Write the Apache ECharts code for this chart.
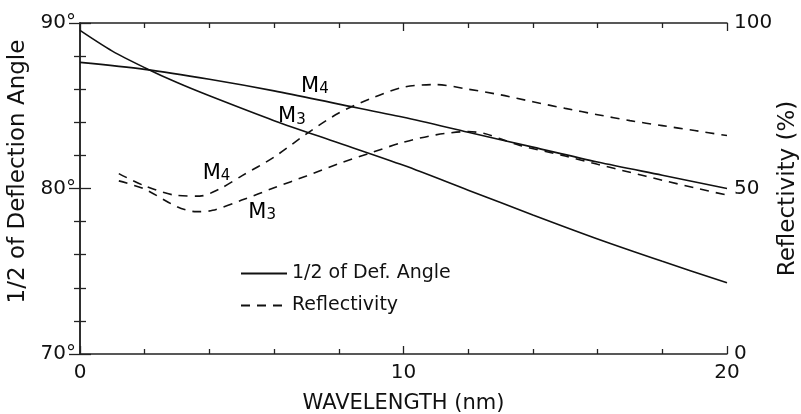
<!DOCTYPE html>
<html>
<head>
<meta charset="utf-8">
<script src="https://cdn.jsdelivr.net/npm/echarts@6/dist/echarts.min.js"></script>
<style>html,body{margin:0;padding:0;background:#fff}#c{width:801px;height:414px}</style>
</head>
<body>
<div id="c"></div>
<script>
// Wavelength (nm) and half deflection angle (deg) for M4 and M3
var angleM4X = [0, 2, 4, 6, 8, 10, 12, 14, 16, 18, 20];
var angleM4Y = [87.62, 87.2, 86.6, 85.9, 85.1, 84.3, 83.4, 82.5, 81.6, 80.8, 80.0];
var angleM3X = [0, 1, 2, 3, 4, 6, 8, 10, 12, 14, 16, 18, 20];
var angleM3Y = [89.55, 88.3, 87.3, 86.4, 85.6, 84.1, 82.75, 81.4, 79.9, 78.4, 76.95, 75.6, 74.3];
// Reflectivity (%)
var reflM4X = [1.2, 2, 3, 3.7, 4.3, 5, 6, 7, 8, 9, 10, 11, 12, 13, 14, 15, 16, 17, 18, 19, 20];
var reflM4Y = [54.5, 50.8, 47.9, 47.7, 49.8, 53.8, 59.5, 66.5, 72.8, 77.2, 80.6, 81.4, 80.0, 78.3, 76.2, 74.2, 72.3, 70.5, 69.0, 67.5, 66.0];
var reflM3X = [1.2, 2, 3, 3.6, 4.1, 5, 6, 7, 8, 9, 10, 11, 12, 12.5, 13, 13.6, 15, 16, 17, 18, 19, 20];
var reflM3Y = [52.3, 49.8, 44.5, 43.0, 43.4, 46.5, 50.2, 53.8, 57.5, 60.8, 64.0, 66.2, 67.2, 66.6, 65.0, 63.0, 59.8, 57.3, 54.9, 52.5, 50.2, 48.0];
// Curve labels: [x, y, subscript]
var angleLabels = [[7.26, 86.19, '4'], [6.55, 84.35, '3']];
var reflLabels = [[4.22, 54.7, '4'], [5.63, 42.9, '3']];
// Tick labels
var xTickLabels = {0: '0', 10: '10', 20: '20'};
var leftTickLabels = {70: '70°', 80: '80°', 90: '90°'};
var rightTickLabels = {0: '0', 50: '50', 100: '100'};

function pairs(xs, ys) { return xs.map(function (x, i) { return [x, ys[i]]; }); }
function lbl(arr) { return arr.map(function (a) { return {value: [a[0], a[1]], sub: a[2]}; }); }

var FONT = 'DejaVu Sans';
var INK = '#111';
var axisLine = {show: true, lineStyle: {color: '#222', width: 1.5}};
var chart = echarts.init(document.getElementById('c'), null, {renderer: 'canvas'});

var richLabel = {
  show: true, position: 'inside', color: INK, textBorderWidth: 0, opacity: 1,
  formatter: function (p) { return '{m|M}{s|' + p.data.sub + '}'; },
  rich: {
    m: {fontFamily: FONT, fontSize: 21, lineHeight: 22, verticalAlign: 'bottom', color: '#000', textBorderWidth: 0},
    s: {fontFamily: FONT, fontSize: 15, lineHeight: 5, verticalAlign: 'bottom', color: '#000', textBorderWidth: 0}
  }
};

chart.setOption({
  backgroundColor: '#fff',
  animation: false,
  grid: {left: 80, right: 74, top: 23, bottom: 60, containLabel: false, outerBoundsMode: 'none'},
  legend: {
    left: 235, top: 259, orient: 'vertical', itemGap: 13, itemWidth: 46, itemHeight: 16,
    data: ['1/2 of Def. Angle', 'Reflectivity'],
    itemStyle: {opacity: 0},
    textStyle: {fontFamily: FONT, fontSize: 19, color: INK}
  },
  xAxis: [{
    type: 'value', min: 0, max: 20, interval: 10, position: 'bottom',
    name: 'WAVELENGTH (nm)', nameLocation: 'middle', nameGap: 39,
    nameTextStyle: {fontFamily: FONT, fontSize: 21, color: INK},
    axisLine: axisLine,
    axisTick: {show: true, inside: true, length: 8, lineStyle: {color: '#222', width: 1.3}},
    minorTick: {show: true, splitNumber: 5, length: 5, lineStyle: {color: '#222', width: 1.3}},
    axisLabel: {margin: 9, fontFamily: FONT, fontSize: 20, color: INK,
      formatter: function (v) { return xTickLabels[v] || ''; }},
    splitLine: {show: false}
  }, {
    type: 'value', min: 0, max: 20, interval: 10, position: 'top',
    axisLine: axisLine,
    axisTick: {show: true, inside: true, length: 8, lineStyle: {color: '#222', width: 1.3}},
    minorTick: {show: true, splitNumber: 5, length: 5, lineStyle: {color: '#222', width: 1.3}},
    axisLabel: {show: false}, splitLine: {show: false}
  }],
  yAxis: [{
    type: 'value', min: 70, max: 90, interval: 10, position: 'left',
    name: '1/2 of Deflection Angle', nameLocation: 'middle', nameGap: 41, nameRotate: 90,
    nameTextStyle: {fontFamily: FONT, fontSize: 23, color: INK, padding: [0, 0, 0, 34]},
    axisLine: axisLine,
    axisTick: {show: true, inside: true, length: 11, lineStyle: {color: '#222', width: 1.3}},
    minorTick: {show: true, splitNumber: 5, length: 6, lineStyle: {color: '#222', width: 1.3}},
    axisLabel: {margin: 4, fontFamily: FONT, fontSize: 20, color: INK,
      formatter: function (v) { return leftTickLabels[v] || ''; }},
    splitLine: {show: false}
  }, {
    type: 'value', min: 0, max: 100, interval: 50, position: 'right',
    name: 'Reflectivity (%)', nameLocation: 'middle', nameGap: 50, nameRotate: 90,
    nameMoveOverlap: false,
    nameTextStyle: {fontFamily: FONT, fontSize: 23, color: INK},
    axisLine: axisLine,
    axisTick: {show: true, inside: true, length: 11, lineStyle: {color: '#222', width: 1.3}},
    minorTick: {show: true, splitNumber: 5, length: 6, lineStyle: {color: '#222', width: 1.3}},
    axisLabel: {margin: 7, fontFamily: FONT, fontSize: 20, color: INK,
      formatter: function (v) { return rightTickLabels[v] || ''; }},
    splitLine: {show: false}
  }],
  series: [
    {name: '1/2 of Def. Angle', type: 'line', yAxisIndex: 0, smooth: 0.3, symbol: 'none',
     data: pairs(angleM4X, angleM4Y), color: INK, lineStyle: {color: INK, width: 1.6}},
    {name: '1/2 of Def. Angle', type: 'line', yAxisIndex: 0, smooth: 0.3, symbol: 'none',
     data: pairs(angleM3X, angleM3Y), color: INK, lineStyle: {color: INK, width: 1.6}},
    {name: 'Reflectivity', type: 'line', yAxisIndex: 1, smooth: 0.3, symbol: 'none',
     data: pairs(reflM4X, reflM4Y), color: INK, lineStyle: {color: INK, width: 1.6, type: [9, 7]}},
    {name: 'Reflectivity', type: 'line', yAxisIndex: 1, smooth: 0.3, symbol: 'none',
     data: pairs(reflM3X, reflM3Y), color: INK, lineStyle: {color: INK, width: 1.6, type: [9, 7]}},
    {name: 'lblA', type: 'scatter', yAxisIndex: 0, symbolSize: 0, data: lbl(angleLabels), label: richLabel, silent: true},
    {name: 'lblR', type: 'scatter', yAxisIndex: 1, symbolSize: 0, data: lbl(reflLabels), label: richLabel, silent: true}
  ]
});
</script>
</body>
</html>
